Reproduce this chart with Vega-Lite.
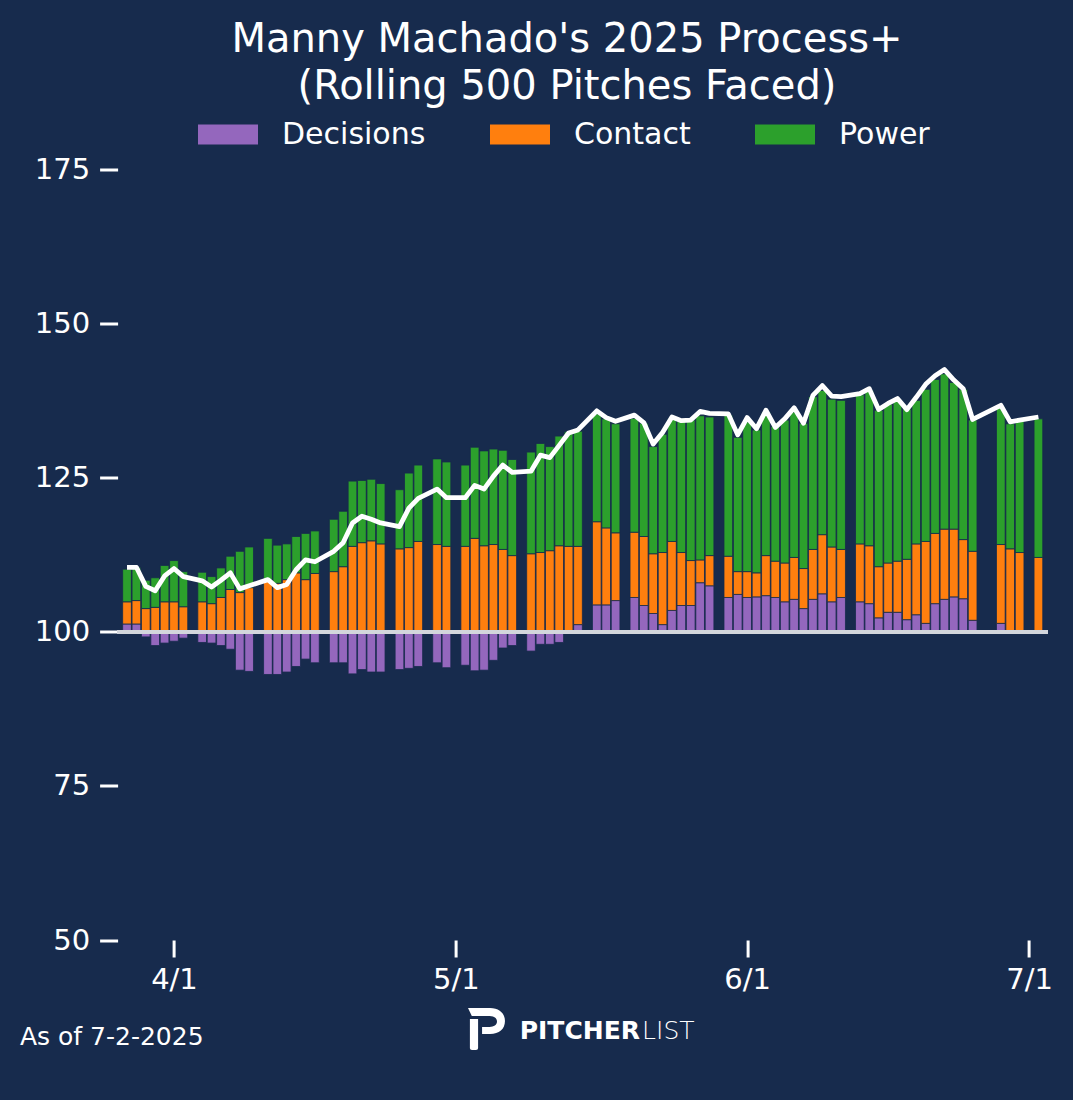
{
  "$schema": "https://vega.github.io/schema/vega-lite/v6.json",
  "width": 930.2,
  "height": 788.5,
  "autosize": {"type": "none"},
  "padding": {"left": 117.6, "top": 151.5, "right": 25.2, "bottom": 160},
  "background": "#172b4d",
  "config": {"view": {"stroke": null}, "font": "DejaVu Sans"},
  "title": {
    "text": ["Manny Machado's 2025 Process+", "(Rolling 500 Pitches Faced)"],
    "color": "white",
    "font": "DejaVu Sans",
    "fontSize": 40,
    "fontWeight": "normal",
    "lineHeight": 47,
    "anchor": "middle",
    "dx": -15.7,
    "dy": 6
  },
  "data": {
    "values": [
      {"date": "2025-03-27", "Decisions": 1.3, "Contact": 3.6, "Power": 5.3, "Process": 10.5},
      {"date": "2025-03-28", "Decisions": 1.3, "Contact": 3.8, "Power": 5.4, "Process": 10.5},
      {"date": "2025-03-29", "Decisions": -0.8, "Contact": 3.8, "Power": 4.6, "Process": 7.4},
      {"date": "2025-03-30", "Decisions": -2.2, "Contact": 4.0, "Power": 4.8, "Process": 6.7},
      {"date": "2025-03-31", "Decisions": -1.8, "Contact": 4.9, "Power": 5.9, "Process": 9.1},
      {"date": "2025-04-01", "Decisions": -1.5, "Contact": 4.9, "Power": 6.7, "Process": 10.3},
      {"date": "2025-04-02", "Decisions": -1.0, "Contact": 4.1, "Power": 5.7, "Process": 9.0},
      {"date": "2025-04-04", "Decisions": -1.7, "Contact": 4.9, "Power": 4.8, "Process": 8.3},
      {"date": "2025-04-05", "Decisions": -1.8, "Contact": 4.6, "Power": 4.4, "Process": 7.3},
      {"date": "2025-04-06", "Decisions": -2.2, "Contact": 5.6, "Power": 4.8, "Process": 8.4},
      {"date": "2025-04-07", "Decisions": -2.8, "Contact": 6.9, "Power": 5.4, "Process": 9.6},
      {"date": "2025-04-08", "Decisions": -6.2, "Contact": 6.4, "Power": 6.7, "Process": 7.0},
      {"date": "2025-04-09", "Decisions": -6.4, "Contact": 7.2, "Power": 6.6, "Process": 7.5},
      {"date": "2025-04-11", "Decisions": -6.9, "Contact": 8.2, "Power": 7.0, "Process": 8.5},
      {"date": "2025-04-12", "Decisions": -6.9, "Contact": 7.9, "Power": 6.2, "Process": 7.2},
      {"date": "2025-04-13", "Decisions": -6.5, "Contact": 8.5, "Power": 5.8, "Process": 7.7},
      {"date": "2025-04-14", "Decisions": -5.6, "Contact": 9.6, "Power": 5.9, "Process": 10.1},
      {"date": "2025-04-15", "Decisions": -4.4, "Contact": 8.5, "Power": 7.5, "Process": 11.7},
      {"date": "2025-04-16", "Decisions": -5.0, "Contact": 9.5, "Power": 6.9, "Process": 11.4},
      {"date": "2025-04-18", "Decisions": -5.0, "Contact": 9.8, "Power": 8.5, "Process": 13.1},
      {"date": "2025-04-19", "Decisions": -5.0, "Contact": 10.6, "Power": 9.0, "Process": 14.5},
      {"date": "2025-04-20", "Decisions": -6.8, "Contact": 13.9, "Power": 10.6, "Process": 17.7},
      {"date": "2025-04-21", "Decisions": -6.1, "Contact": 14.5, "Power": 10.1, "Process": 18.8},
      {"date": "2025-04-22", "Decisions": -6.5, "Contact": 14.8, "Power": 10.0, "Process": 18.3},
      {"date": "2025-04-23", "Decisions": -6.5, "Contact": 14.3, "Power": 9.8, "Process": 17.7},
      {"date": "2025-04-25", "Decisions": -6.1, "Contact": 13.5, "Power": 9.6, "Process": 17.1},
      {"date": "2025-04-26", "Decisions": -5.9, "Contact": 13.7, "Power": 12.1, "Process": 20.1},
      {"date": "2025-04-27", "Decisions": -5.6, "Contact": 14.7, "Power": 12.4, "Process": 21.7},
      {"date": "2025-04-29", "Decisions": -5.0, "Contact": 14.2, "Power": 13.9, "Process": 23.2},
      {"date": "2025-04-30", "Decisions": -5.8, "Contact": 13.9, "Power": 13.7, "Process": 21.8},
      {"date": "2025-05-02", "Decisions": -5.4, "Contact": 13.9, "Power": 13.2, "Process": 21.8},
      {"date": "2025-05-03", "Decisions": -6.3, "Contact": 15.2, "Power": 14.8, "Process": 23.8},
      {"date": "2025-05-04", "Decisions": -6.2, "Contact": 14.0, "Power": 15.4, "Process": 23.2},
      {"date": "2025-05-05", "Decisions": -4.6, "Contact": 14.2, "Power": 15.5, "Process": 25.3},
      {"date": "2025-05-06", "Decisions": -2.6, "Contact": 13.4, "Power": 16.1, "Process": 27.1},
      {"date": "2025-05-07", "Decisions": -2.2, "Contact": 12.4, "Power": 15.6, "Process": 25.9},
      {"date": "2025-05-09", "Decisions": -3.1, "Contact": 12.7, "Power": 16.5, "Process": 26.1},
      {"date": "2025-05-10", "Decisions": -2.0, "Contact": 12.9, "Power": 17.7, "Process": 28.7},
      {"date": "2025-05-11", "Decisions": -2.0, "Contact": 13.2, "Power": 16.9, "Process": 28.3},
      {"date": "2025-05-12", "Decisions": -1.7, "Contact": 14.0, "Power": 17.8, "Process": 30.3},
      {"date": "2025-05-13", "Decisions": -0.1, "Contact": 13.9, "Power": 18.6, "Process": 32.3},
      {"date": "2025-05-14", "Decisions": 1.2, "Contact": 12.7, "Power": 18.7, "Process": 32.8},
      {"date": "2025-05-16", "Decisions": 4.4, "Contact": 13.5, "Power": 17.5, "Process": 35.9},
      {"date": "2025-05-17", "Decisions": 4.4, "Contact": 12.5, "Power": 17.7, "Process": 34.8},
      {"date": "2025-05-18", "Decisions": 5.1, "Contact": 11.0, "Power": 17.7, "Process": 34.2},
      {"date": "2025-05-20", "Decisions": 5.6, "Contact": 10.6, "Power": 18.5, "Process": 35.2},
      {"date": "2025-05-21", "Decisions": 4.3, "Contact": 11.2, "Power": 18.4, "Process": 34.0},
      {"date": "2025-05-22", "Decisions": 3.0, "Contact": 9.7, "Power": 17.4, "Process": 30.5},
      {"date": "2025-05-23", "Decisions": 1.2, "Contact": 11.7, "Power": 19.2, "Process": 32.4},
      {"date": "2025-05-24", "Decisions": 3.5, "Contact": 11.2, "Power": 19.9, "Process": 34.9},
      {"date": "2025-05-25", "Decisions": 4.3, "Contact": 8.6, "Power": 21.3, "Process": 34.3},
      {"date": "2025-05-26", "Decisions": 4.3, "Contact": 7.3, "Power": 22.8, "Process": 34.4},
      {"date": "2025-05-27", "Decisions": 8.0, "Contact": 3.7, "Power": 23.4, "Process": 35.8},
      {"date": "2025-05-28", "Decisions": 7.5, "Contact": 4.9, "Power": 22.5, "Process": 35.5},
      {"date": "2025-05-30", "Decisions": 5.6, "Contact": 6.7, "Power": 22.9, "Process": 35.4},
      {"date": "2025-05-31", "Decisions": 6.1, "Contact": 3.7, "Power": 21.8, "Process": 32.0},
      {"date": "2025-06-01", "Decisions": 5.6, "Contact": 4.2, "Power": 24.3, "Process": 34.8},
      {"date": "2025-06-02", "Decisions": 5.7, "Contact": 3.9, "Power": 23.2, "Process": 33.0},
      {"date": "2025-06-03", "Decisions": 5.9, "Contact": 6.5, "Power": 23.3, "Process": 36.0},
      {"date": "2025-06-04", "Decisions": 5.6, "Contact": 5.9, "Power": 21.9, "Process": 33.2},
      {"date": "2025-06-05", "Decisions": 4.9, "Contact": 6.3, "Power": 23.2, "Process": 34.6},
      {"date": "2025-06-06", "Decisions": 5.3, "Contact": 6.8, "Power": 23.6, "Process": 36.4},
      {"date": "2025-06-07", "Decisions": 3.8, "Contact": 6.5, "Power": 23.6, "Process": 33.9},
      {"date": "2025-06-08", "Decisions": 5.3, "Contact": 8.1, "Power": 24.8, "Process": 38.4},
      {"date": "2025-06-09", "Decisions": 6.2, "Contact": 9.6, "Power": 23.4, "Process": 40.0},
      {"date": "2025-06-10", "Decisions": 4.9, "Contact": 8.9, "Power": 24.0, "Process": 38.3},
      {"date": "2025-06-11", "Decisions": 5.6, "Contact": 7.8, "Power": 24.2, "Process": 38.2},
      {"date": "2025-06-13", "Decisions": 4.9, "Contact": 9.4, "Power": 24.2, "Process": 38.7},
      {"date": "2025-06-14", "Decisions": 4.6, "Contact": 9.4, "Power": 25.2, "Process": 39.5},
      {"date": "2025-06-15", "Decisions": 2.3, "Contact": 8.3, "Power": 25.4, "Process": 36.1},
      {"date": "2025-06-16", "Decisions": 3.2, "Contact": 8.0, "Power": 25.8, "Process": 37.1},
      {"date": "2025-06-17", "Decisions": 3.2, "Contact": 8.3, "Power": 26.2, "Process": 37.9},
      {"date": "2025-06-18", "Decisions": 2.0, "Contact": 9.8, "Power": 24.4, "Process": 36.1},
      {"date": "2025-06-19", "Decisions": 2.8, "Contact": 11.5, "Power": 23.3, "Process": 38.1},
      {"date": "2025-06-20", "Decisions": 1.4, "Contact": 13.3, "Power": 24.7, "Process": 40.2},
      {"date": "2025-06-21", "Decisions": 4.6, "Contact": 11.4, "Power": 25.0, "Process": 41.6},
      {"date": "2025-06-22", "Decisions": 5.3, "Contact": 11.4, "Power": 25.2, "Process": 42.6},
      {"date": "2025-06-23", "Decisions": 5.7, "Contact": 11.0, "Power": 23.8, "Process": 40.9},
      {"date": "2025-06-24", "Decisions": 5.4, "Contact": 9.6, "Power": 24.4, "Process": 39.5},
      {"date": "2025-06-25", "Decisions": 1.9, "Contact": 11.2, "Power": 21.3, "Process": 34.5},
      {"date": "2025-06-28", "Decisions": 1.4, "Contact": 12.8, "Power": 22.3, "Process": 36.8},
      {"date": "2025-06-29", "Decisions": 0.1, "Contact": 13.4, "Power": 20.3, "Process": 34.1},
      {"date": "2025-06-30", "Decisions": 0.1, "Contact": 12.8, "Power": 21.4, "Process": 34.4},
      {"date": "2025-07-02", "Decisions": 0.1, "Contact": 12.0, "Power": 22.5, "Process": 34.9}
    ]
  },
  "layer": [
    {
      "transform": [
        {"fold": ["Decisions", "Contact", "Power"], "as": ["component", "value"]},
        {"window": [{"op": "row_number", "as": "stack_rank"}], "groupby": ["date"]}
      ],
      "mark": {"type": "bar", "width": 8.7, "stroke": "#172b4d", "strokeWidth": 0.8},
      "encoding": {
        "x": {
          "field": "date",
          "type": "temporal",
          "scale": {
            "type": "utc",
            "padding": 0,
            "nice": false,
            "domain": [
              {"year": 2025, "month": 3, "date": 26, "utc": true},
              {"year": 2025, "month": 7, "date": 3, "utc": true}
            ]
          },
          "axis": {
            "title": null,
            "values": [
              {"year": 2025, "month": 4, "date": 1, "utc": true},
              {"year": 2025, "month": 5, "date": 1, "utc": true},
              {"year": 2025, "month": 6, "date": 1, "utc": true},
              {"year": 2025, "month": 7, "date": 1, "utc": true}
            ],
            "format": "%-m/%-d",
            "domain": false,
            "grid": false,
            "tickColor": "white",
            "tickWidth": 3,
            "tickSize": 17,
            "labelColor": "white",
            "labelFont": "DejaVu Sans",
            "labelFontSize": 29,
            "labelPadding": 8,
            "labelFlush": false
          }
        },
        "y": {
          "field": "value",
          "type": "quantitative",
          "stack": "zero",
          "scale": {"domain": [-50, 78], "nice": false, "zero": false, "padding": 0},
          "axis": {
            "title": null,
            "values": [-50, -25, 0, 25, 50, 75],
            "labelExpr": "datum.value + 100",
            "domain": false,
            "grid": false,
            "tickColor": "white",
            "tickWidth": 3,
            "tickSize": 18,
            "labelColor": "white",
            "labelFont": "DejaVu Sans",
            "labelFontSize": 29,
            "labelPadding": 10
          }
        },
        "order": {"field": "stack_rank", "type": "quantitative"},
        "color": {
          "field": "component",
          "type": "nominal",
          "sort": ["Decisions", "Contact", "Power"],
          "scale": {
            "domain": ["Decisions", "Contact", "Power"],
            "range": ["#9467bd", "#ff7f0e", "#2ca02c"]
          },
          "legend": {
            "title": null,
            "orient": "none",
            "direction": "horizontal",
            "legendX": 80.4,
            "legendY": -47,
            "symbolType": "M-1,-0.333H1V0.333H-1Z",
            "symbolSize": 3600,
            "symbolStrokeWidth": 0,
            "symbolOpacity": 1,
            "labelColor": "white",
            "labelFont": "DejaVu Sans",
            "labelFontSize": 30,
            "labelOffset": 24,
            "columnPadding": 64,
            "padding": 0
          }
        }
      }
    },
    {
      "mark": {"type": "rule", "color": "#d3d6dc", "strokeWidth": 3.5},
      "encoding": {"y": {"datum": 0}}
    },
    {
      "mark": {"type": "line", "color": "white", "strokeWidth": 4.8, "strokeJoin": "round"},
      "encoding": {
        "x": {"field": "date", "type": "temporal"},
        "y": {"field": "Process", "type": "quantitative"}
      }
    },
    {
      "data": {"values": [{}]},
      "mark": {"type": "text", "text": "As of 7-2-2025", "align": "left", "baseline": "middle", "font": "DejaVu Sans", "fontSize": 25, "color": "white"},
      "encoding": {
        "x": {"datum": {"year": 2025, "month": 3, "date": 15, "hours": 14, "minutes": 38, "utc": true}, "type": "temporal"},
        "y": {"datum": -65.75}
      }
    },
    {
      "data": {"values": [{}]},
      "mark": {"type": "text", "text": "PITCHER", "align": "right", "baseline": "middle", "font": "DejaVu Sans", "fontWeight": "bold", "fontSize": 25, "color": "white"},
      "encoding": {
        "x": {"datum": {"year": 2025, "month": 5, "date": 20, "hours": 14, "minutes": 24, "utc": true}, "type": "temporal"},
        "y": {"datum": -64.77}
      }
    },
    {
      "data": {"values": [{}]},
      "mark": {"type": "text", "text": "LIST", "align": "left", "baseline": "middle", "font": "DejaVu Sans", "fontWeight": 200, "fontSize": 25, "color": "white"},
      "encoding": {
        "x": {"datum": {"year": 2025, "month": 5, "date": 20, "hours": 19, "minutes": 40, "utc": true}, "type": "temporal"},
        "y": {"datum": -64.77}
      }
    },
    {
      "data": {"values": [{}]},
      "mark": {
        "type": "point",
        "shape": "M-0.88,-1L0.17,-1C0.6,-1 0.88,-0.75 0.88,-0.38C0.88,0 0.6,0.24 0.17,0.24L-0.21,0.24L-0.21,-0.1L0.15,-0.1C0.35,-0.1 0.5,-0.2 0.5,-0.36C0.5,-0.52 0.35,-0.62 0.15,-0.62L-0.7,-0.62ZM-0.79,-0.48L-0.4,-0.48L-0.4,0.92Q-0.4,1 -0.5,1L-0.69,1Q-0.79,1 -0.79,0.92Z",
        "size": 1764,
        "filled": true,
        "color": "white",
        "opacity": 1,
        "strokeWidth": 0
      },
      "encoding": {
        "x": {"datum": {"year": 2025, "month": 5, "date": 4, "hours": 6, "minutes": 15, "utc": true}, "type": "temporal"},
        "y": {"datum": -64.45}
      }
    }
  ]
}
